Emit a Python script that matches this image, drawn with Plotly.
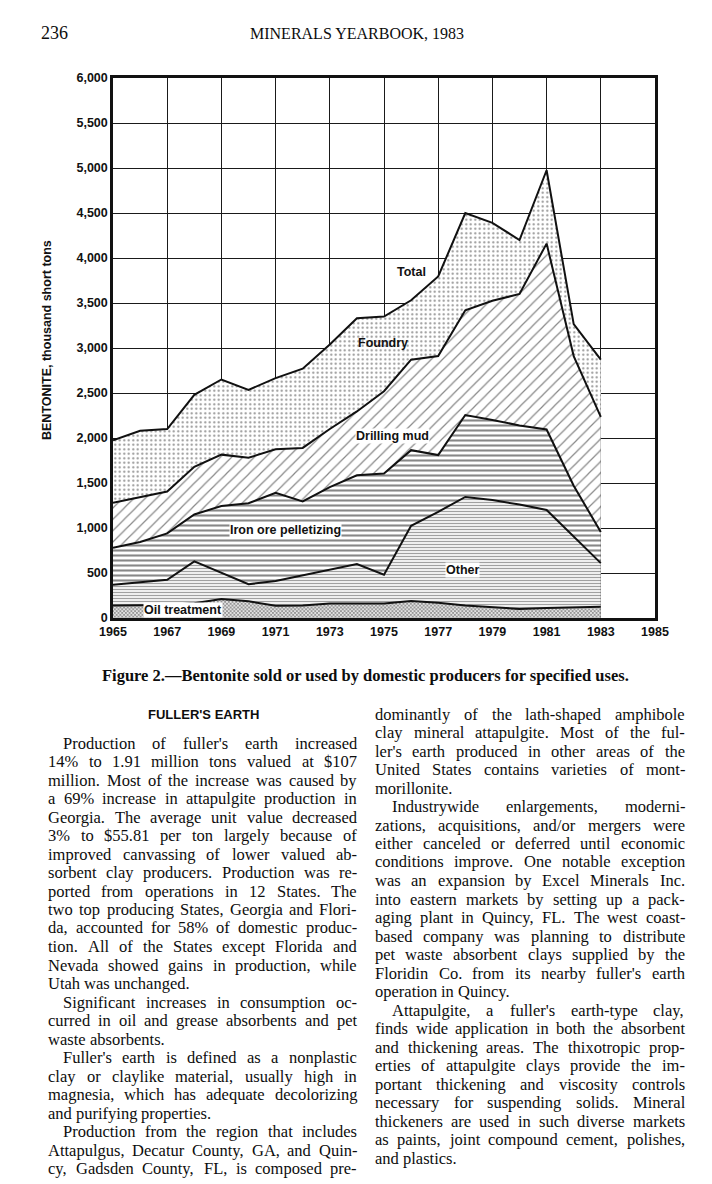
import plotly.graph_objects as go

# ---------------- data (thousand short tons) ----------------
years = list(range(1965, 1984))
oil_treatment = [140, 140, 145, 165, 210, 185, 135, 140, 160, 160, 160, 190, 170, 140, 120, 100, 110, 120, 125]
other = [230, 255, 280, 465, 295, 190, 275, 335, 375, 440, 320, 835, 1010, 1205, 1190, 1160, 1090, 780, 485]
iron_ore = [410, 450, 515, 520, 740, 900, 980, 820, 920, 985, 1125, 840, 630, 910, 890, 880, 895, 570, 345]
drilling_mud = [500, 500, 465, 530, 570, 505, 485, 595, 645, 710, 915, 1005, 1100, 1165, 1325, 1460, 2065, 1440, 1280]
foundry = [695, 735, 695, 800, 835, 755, 790, 880, 940, 1035, 830, 660, 885, 1080, 865, 600, 815, 355, 635]
x_tick_years = list(range(1965, 1986, 2))

series_names = ["Oil treatment", "Other", "Iron ore pelletizing", "Drilling mud", "Foundry"]

header_left = "236"
header_title = "MINERALS YEARBOOK, 1983"
caption = "Figure 2.\u2014Bentonite sold or used by domestic producers for specified uses."
y_title = "BENTONITE, thousand short tons"
section_head = "FULLER'S EARTH"

col1_paragraphs = [
    (True, True, [
        "Production of fuller's earth increased",
        "14% to 1.91 million tons valued at $107",
        "million. Most of the increase was caused by",
        "a 69% increase in attapulgite production in",
        "Georgia. The average unit value decreased",
        "3% to $55.81 per ton largely because of",
        "improved canvassing of lower valued ab-",
        "sorbent clay producers. Production was re-",
        "ported from operations in 12 States. The",
        "two top producing States, Georgia and Flori-",
        "da, accounted for 58% of domestic produc-",
        "tion. All of the States except Florida and",
        "Nevada showed gains in production, while",
        "Utah was unchanged."]),
    (True, True, [
        "Significant increases in consumption oc-",
        "curred in oil and grease absorbents and pet",
        "waste absorbents."]),
    (True, True, [
        "Fuller's earth is defined as a nonplastic",
        "clay or claylike material, usually high in",
        "magnesia, which has adequate decolorizing",
        "and purifying properties."]),
    (True, False, [
        "Production from the region that includes",
        "Attapulgus, Decatur County, GA, and Quin-",
        "cy, Gadsden County, FL, is composed pre-"]),
]
col2_paragraphs = [
    (False, True, [
        "dominantly of the lath-shaped amphibole",
        "clay mineral attapulgite. Most of the ful-",
        "ler's earth produced in other areas of the",
        "United States contains varieties of mont-",
        "morillonite."]),
    (True, True, [
        "Industrywide enlargements, moderni-",
        "zations, acquisitions, and/or mergers were",
        "either canceled or deferred until economic",
        "conditions improve. One notable exception",
        "was an expansion by Excel Minerals Inc.",
        "into eastern markets by setting up a pack-",
        "aging plant in Quincy, FL. The west coast-",
        "based company was planning to distribute",
        "pet waste absorbent clays supplied by the",
        "Floridin Co. from its nearby fuller's earth",
        "operation in Quincy."]),
    (True, True, [
        "Attapulgite, a fuller's earth-type clay,",
        "finds wide application in both the absorbent",
        "and thickening areas. The thixotropic prop-",
        "erties of attapulgite clays provide the im-",
        "portant thickening and viscosity controls",
        "necessary for suspending solids. Mineral",
        "thickeners are used in such diverse markets",
        "as paints, joint compound cement, polishes,",
        "and plastics."]),
]

# ---------------- page geometry ----------------
W, H = 712, 1184
PL, PR, PT, PB = 113, 655, 78, 618   # plot box in page pixels


def px_x(px):
    return (px - PL) / (PR - PL)


def px_y(py):
    return (PB - py) / (PB - PT)


# Times-Roman advance widths (Liberation Serif is metric compatible)
TW = {' ': 250, '!': 333, '"': 408, '$': 500, '%': 833, '&': 778, "'": 180, '(': 333, ')': 333,
      ',': 250, '-': 333, '.': 250, '/': 278, ':': 278, ';': 278, '?': 444}
for d in "0123456789":
    TW[d] = 500
TW.update(dict(zip("ABCDEFGHIJKLMNOPQRSTUVWXYZ",
                   [722, 667, 667, 722, 611, 556, 722, 722, 333, 389, 722, 611, 889, 722, 722, 556, 722,
                    667, 556, 611, 722, 722, 944, 722, 722, 611])))
TW.update(dict(zip("abcdefghijklmnopqrstuvwxyz",
                   [444, 500, 444, 500, 444, 333, 500, 500, 278, 278, 500, 278, 778, 500, 500, 500, 500,
                    333, 389, 278, 500, 500, 722, 500, 500, 444])))

BODY_SIZE = 16.5
BODY_FONT = "Liberation Serif"
LEAD = 18.5


def tw(s, size=BODY_SIZE):
    return sum(TW.get(c, 500) for c in s) / 1000.0 * size


annotations = []


def add_text(px, py, text, size, family, color="#0d0d0d", xanchor="left", bold=False, **kw):
    annotations.append(dict(
        x=px_x(px), y=px_y(py), xref="paper", yref="paper", text=text, showarrow=False,
        xanchor=xanchor, yanchor="middle", borderpad=0,
        font=dict(family=family, size=size, color=color, weight="bold" if bold else "normal"),
        **kw))


def set_column(paragraphs, x_left, x_indent, x_right, y0):
    i = 0
    for indent, ragged_end, lines in paragraphs:
        for j, line in enumerate(lines):
            y = y0 + i * LEAD
            xs = x_indent if (indent and j == 0) else x_left
            words = line.split(" ")
            widths = [tw(w) for w in words]
            justify = not (ragged_end and j == len(lines) - 1)
            if justify and len(words) > 1:
                gap = (x_right - xs - sum(widths)) / (len(words) - 1)
            else:
                gap = tw(" ")
            x = xs
            for w, wd in zip(words, widths):
                add_text(x - 1, y, w, BODY_SIZE, BODY_FONT)
                x += wd + gap
            i += 1


set_column(col1_paragraphs, 48, 63, 357, 743)
set_column(col2_paragraphs, 375, 392, 685, 714)

# header, caption, section heading
add_text(40, 33, header_left, 18, "Liberation Serif")
add_text(357, 33, header_title, 16, "Liberation Serif", xanchor="center")
add_text(365, 675, caption, 16.5, "Liberation Serif", xanchor="center", bold=True)
add_text(203, 714, section_head, 13, "Liberation Sans", xanchor="center", bold=True)

# y-axis title
annotations.append(dict(
    x=px_x(47), y=px_y(340), xref="paper", yref="paper", text=y_title, showarrow=False,
    textangle=-90, xanchor="center", yanchor="middle",
    font=dict(family="Liberation Sans", size=12.5, color="#111", weight="bold")))

# labels on the chart (data coordinates)
chart_labels = [
    ("Total", 1976.0, 3840, False),
    ("Foundry", 1974.95, 3060, False),
    ("Drilling mud", 1975.3, 2020, True),
    ("Iron ore pelletizing", 1971.35, 975, True),
    ("Other", 1977.9, 530, True),
    ("Oil treatment", 1967.6, 85, True),
]
for txt, lx, ly, bg in chart_labels:
    annotations.append(dict(
        x=lx, y=ly, xref="x", yref="y", text=txt, showarrow=False, xanchor="center", yanchor="middle",
        bgcolor="white" if bg else None, borderpad=0,
        font=dict(family="Liberation Sans", size=12.5, color="#111", weight="bold")))

# ---------------- stacked areas ----------------
patterns = [
    dict(shape="x", size=2.6, solidity=0.6, fgcolor="#222", bgcolor="white"),
    dict(shape="-", size=3, solidity=0.45, fgcolor="#444", bgcolor="white"),
    dict(shape="-", size=5, solidity=0.42, fgcolor="#111", bgcolor="white"),
    dict(shape="/", size=8, solidity=0.15, fgcolor="#111", bgcolor="white"),
    dict(shape=".", size=4.5, solidity=0.18, fgcolor="#222", bgcolor="white"),
]
series = [oil_treatment, other, iron_ore, drilling_mud, foundry]

fig = go.Figure()
for name, vals, pat in zip(series_names, series, patterns):
    fig.add_trace(go.Scatter(
        x=years, y=vals, name=name, mode="lines", stackgroup="one",
        line=dict(color="#111", width=2), fillcolor="white", fillpattern=pat,
        hoverinfo="x+y+name"))

axis_common = dict(
    showgrid=True, gridcolor="#1a1a1a", gridwidth=1.3, zeroline=False,
    showline=True, linecolor="#111", linewidth=2.5, mirror=True, ticks="",
    tickfont=dict(family="Liberation Sans", size=12.5, color="#111", weight="bold"),
)

fig.update_layout(
    width=W, height=H, autosize=False,
    margin=dict(l=PL, r=W - PR, t=PT, b=H - PB, pad=0),
    paper_bgcolor="white", plot_bgcolor="white",
    showlegend=False,
    xaxis=dict(range=[1965, 1985], tickvals=x_tick_years, ticktext=[str(v) for v in x_tick_years],
               **axis_common),
    yaxis=dict(range=[0, 6000], dtick=500, tickformat=",", **axis_common),
    annotations=annotations,
)

fig.write_html("out.html", config={"displayModeBar": False},
               post_script="document.body.style.margin='0';")
